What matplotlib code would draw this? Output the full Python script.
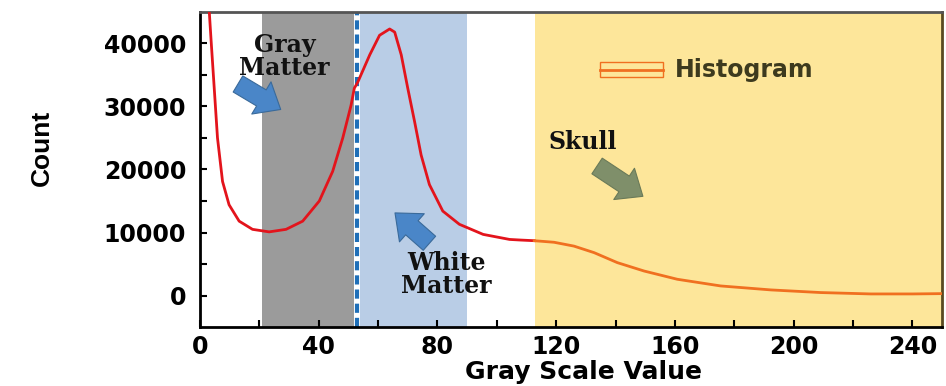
import matplotlib
matplotlib.use("Agg")
import matplotlib.pyplot as plt
import numpy as np
from matplotlib.patches import FancyArrowPatch, Rectangle
from matplotlib.lines import Line2D
from matplotlib.legend_handler import HandlerTuple

# histogram curve
gray_value = [1, 2, 3, 3.7, 4.8, 5.9, 7.6, 9.8, 13.2, 17.7, 23.3, 29, 34.6, 40.2,
              44.7, 48.1, 50.9, 52, 53.2, 57.2, 60.5, 63.9, 65.6, 67.8, 70.0, 72.3,
              74.5, 77.3, 81.8, 87.4, 95.4, 104.3, 108.1, 112.6, 119.3, 126, 132.8,
              140.6, 149.6, 160.8, 175.4, 192.3, 209.1, 226, 240, 250]
count = [62000, 52000, 46000, 40800, 32900, 25000, 18100, 14400, 11800, 10500,
         10100, 10500, 11800, 15000, 19700, 25000, 30200, 32900, 33900, 38200,
         41300, 42300, 41800, 38200, 32900, 27600, 22300, 17600, 13400, 11300,
         9700, 8900, 8800, 8700, 8450, 7840, 6800, 5220, 3890, 2580, 1520, 890,
         470, 250, 250, 300]

# regions
gray_matter = (21, 52)
white_matter = (54, 90)
skull = (113, 250)
threshold = 53

x_ticks = [0, 40, 80, 120, 160, 200, 240]
y_ticks = [0, 10000, 20000, 30000, 40000]

SANS = "DejaVu Sans"

fig = plt.figure(figsize=(9.46, 3.86), dpi=100)
ax = fig.add_axes([0.2114, 0.1528, 0.7844, 0.8162])

ax.axvspan(*gray_matter, color="#9b9b9b", lw=0, zorder=0)
ax.axvspan(*white_matter, color="#b9cde6", lw=0, zorder=0)
ax.axvspan(*skull, color="#fde69a", lw=0, zorder=0)
ax.axvline(threshold, color="white", lw=3, zorder=1)
ax.axvline(threshold, color="#1f6fb8", lw=3, ls=(0, (2.2, 1.2)), zorder=1)

x = np.array(gray_value)
y = np.array(count)
left = x <= skull[0]
right = x >= skull[0] - 1
ax.plot(x[left], y[left], color="#e3141c", lw=2, zorder=3)
ax.plot(x[right], y[right], color="#f07020", lw=2, zorder=3)

ax.set_xlim(0, 250)
ax.set_ylim(-5000, 45000)
ax.set_xticks(x_ticks)
ax.set_yticks(y_ticks)
ax.set_xticks(np.arange(20, 250, 40), minor=True)
ax.set_yticks(np.arange(5000, 45000, 10000), minor=True)
ax.tick_params(which="both", direction="in", length=5, width=1.5, top=False, right=False)
ax.tick_params(axis="x", labelsize=17, pad=6)
ax.tick_params(axis="y", labelsize=17, pad=10)
for lab in ax.get_xticklabels() + ax.get_yticklabels():
    lab.set_fontweight("bold")
    lab.set_family(SANS)
for s in ax.spines.values():
    s.set_linewidth(2)
ax.spines["right"].set_color("#5a4a20")
ax.spines["top"].set_color("#555555")

ax.set_xlabel("Gray Scale Value", fontsize=18, fontweight="bold", family=SANS)
ax.xaxis.set_label_coords(0.517, -0.105)
ax.set_ylabel("Count", fontsize=19, fontweight="bold", family="Liberation Sans")
ax.yaxis.set_label_coords(-0.197, 0.57)

serif = dict(family="DejaVu Serif", fontweight="bold", fontsize=17,
             ha="center", va="center", color="#111111", linespacing=0.95, zorder=5)
ax.text(28.5, 38000, "Gray\nMatter", **serif)
ax.text(83, 3300, "White\nMatter", **serif)
ax.text(129, 24400, "Skull", **serif)


def block_arrow(tail, head, color, edge):
    arr = FancyArrowPatch(tail, head,
                          arrowstyle="simple,head_width=1.5,head_length=0.9,tail_width=0.75",
                          mutation_scale=18, facecolor=color, edgecolor=edge,
                          lw=0.8, zorder=6)
    ax.add_patch(arr)


block_arrow((12, 33800), (28, 29300), "#4a86c8", "#3a6a9a")
block_arrow((78, 8000), (65, 13400), "#4a86c8", "#3a6a9a")
block_arrow((133, 20800), (150, 15500), "#7f8f6a", "#6a7a58")

handle = (Rectangle((0, 0), 1, 1, facecolor="none", edgecolor="#f07020", lw=1),
          Line2D([], [], color="#f07020", lw=2))
leg = ax.legend([handle], ["Histogram"], handler_map={tuple: HandlerTuple(ndivide=1, pad=0)},
                loc="upper left", bbox_to_anchor=(0.51, 0.92), frameon=False,
                handlelength=2.7, handleheight=0.6, handletextpad=0.5,
                prop=dict(family=SANS, weight="bold", size=17))
for t in leg.get_texts():
    t.set_color("#3d3a1e")

fig.savefig("out.png", dpi=100)
